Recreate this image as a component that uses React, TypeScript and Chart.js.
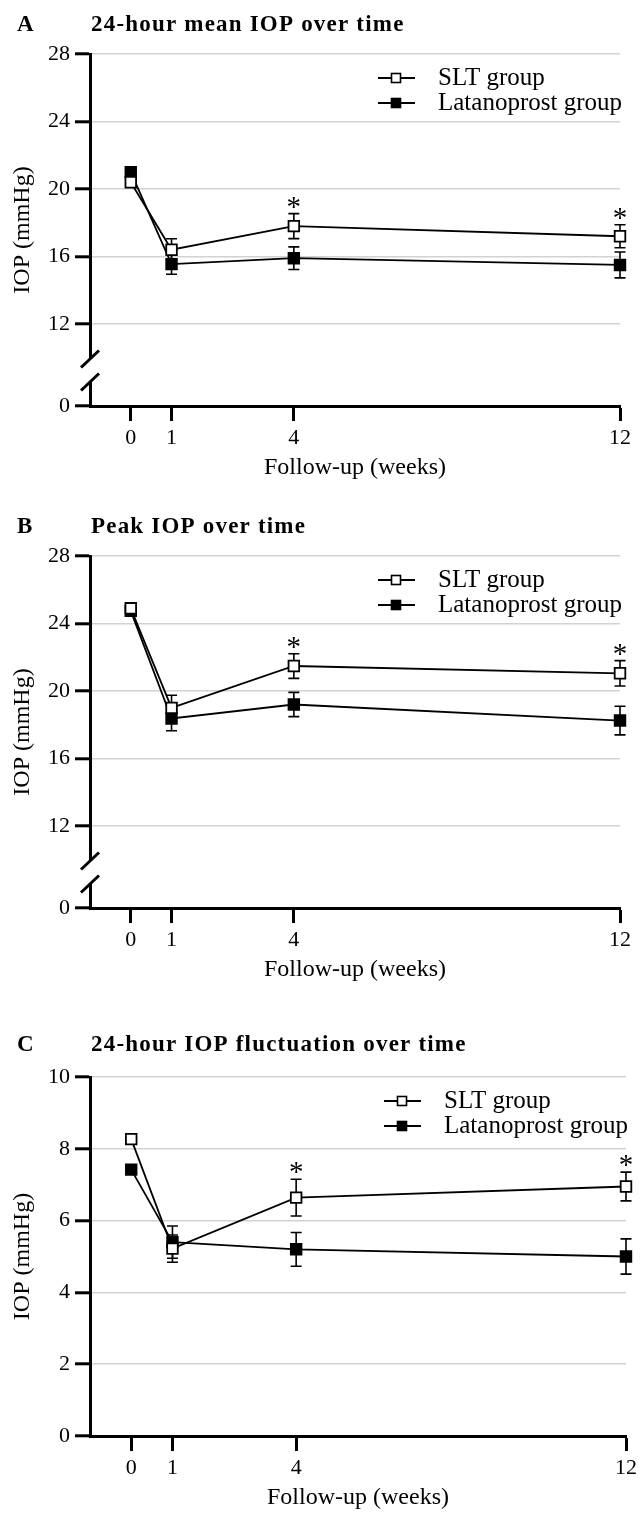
import React, { useEffect, useRef } from 'react';
import { Chart, registerables } from 'chart.js';

Chart.register(...registerables);

// ---------- data ----------
const WEEKS = [0, 1, 4, 12];
const X_TICKS = [0, 1, 4, 12];
const SERIES_LABELS = ['SLT group', 'Latanoprost group'];

const A_SLT = [20.4, 16.4, 17.8, 17.2];
const A_SLT_ERR = [0.2, 0.65, 0.74, 0.68];
const A_LAT = [21.0, 15.55, 15.9, 15.5];
const A_LAT_ERR = [0.2, 0.6, 0.67, 0.77];
const A_SIG = [false, false, true, true];

const B_SLT = [24.9, 19.0, 21.48, 21.05];
const B_SLT_ERR = [0.2, 0.75, 0.73, 0.75];
const B_LAT = [24.75, 18.37, 19.2, 18.25];
const B_LAT_ERR = [0.2, 0.73, 0.72, 0.85];
const B_SIG = [false, false, true, true];

const C_SLT = [8.27, 5.22, 6.64, 6.95];
const C_SLT_ERR = [0.1, 0.38, 0.51, 0.4];
const C_LAT = [7.42, 5.4, 5.2, 5.0];
const C_LAT_ERR = [0.1, 0.45, 0.47, 0.49];
const C_SIG = [false, false, true, true];

const Y_TICKS_AB = [12, 16, 20, 24, 28];
const Y_TICKS_C = [0, 2, 4, 6, 8, 10];

const FONT = '"Liberation Serif", "Times New Roman", serif';

type Panel = {
  letter: string;
  title: string;
  slt: number[];
  sltErr: number[];
  lat: number[];
  latErr: number[];
  sig: boolean[];
  yMin: number;
  yMax: number;
  yTicks: number[];
  broken: boolean;
  pageTop: number;
  height: number;
  plotTop: number;
  plotBottom: number;
  plotRight: number;
};

const PANELS: Panel[] = [
  {
    letter: 'A', title: '24-hour mean IOP over time',
    slt: A_SLT, sltErr: A_SLT_ERR, lat: A_LAT, latErr: A_LAT_ERR, sig: A_SIG,
    yMin: 7.14, yMax: 28, yTicks: Y_TICKS_AB, broken: true,
    pageTop: 0, height: 500, plotTop: 54, plotBottom: 406, plotRight: 620,
  },
  {
    letter: 'B', title: 'Peak IOP over time',
    slt: B_SLT, sltErr: B_SLT_ERR, lat: B_LAT, latErr: B_LAT_ERR, sig: B_SIG,
    yMin: 7.14, yMax: 28, yTicks: Y_TICKS_AB, broken: true,
    pageTop: 502, height: 500, plotTop: 54, plotBottom: 406, plotRight: 620,
  },
  {
    letter: 'C', title: '24-hour IOP fluctuation over time',
    slt: C_SLT, sltErr: C_SLT_ERR, lat: C_LAT, latErr: C_LAT_ERR, sig: C_SIG,
    yMin: 0, yMax: 10, yTicks: Y_TICKS_C, broken: false,
    pageTop: 1020, height: 493, plotTop: 57, plotBottom: 416, plotRight: 627,
  },
];

function makePlugin(p: Panel) {
  const errs = [p.sltErr, p.latErr];
  const means = [p.slt, p.lat];
  return {
    id: 'decor' + p.letter,
    beforeDatasetsDraw(chart: any) {
      const ctx = chart.ctx;
      const xs = chart.scales.x;
      const ys = chart.scales.y;
      ctx.save();
      ctx.strokeStyle = '#000';
      ctx.lineWidth = 1.6;
      for (let d = 0; d < 2; d++) {
        WEEKS.forEach((w, i) => {
          const x = xs.getPixelForValue(w);
          const yT = ys.getPixelForValue(means[d][i] + errs[d][i]);
          const yB = ys.getPixelForValue(means[d][i] - errs[d][i]);
          ctx.beginPath();
          ctx.moveTo(x, yT); ctx.lineTo(x, yB);
          ctx.moveTo(x - 5.5, yT); ctx.lineTo(x + 5.5, yT);
          ctx.moveTo(x - 5.5, yB); ctx.lineTo(x + 5.5, yB);
          ctx.stroke();
        });
      }
      ctx.restore();
    },
    afterDraw(chart: any) {
      const ctx = chart.ctx;
      const xs = chart.scales.x;
      const ys = chart.scales.y;
      const area = chart.chartArea;
      ctx.save();
      // significance asterisks
      ctx.fillStyle = '#000';
      ctx.font = `29px ${FONT}`;
      ctx.textAlign = 'center';
      ctx.textBaseline = 'alphabetic';
      WEEKS.forEach((w, i) => {
        if (!p.sig[i]) return;
        const x = xs.getPixelForValue(w);
        const top = Math.max(p.slt[i] + p.sltErr[i], p.lat[i] + p.latErr[i]);
        const y = ys.getPixelForValue(top);
        ctx.fillText('*', x, y + 2);
      });
      // axis break
      if (p.broken) {
        const ax = area.left;
        const c1 = area.bottom - 47;
        const c2 = area.bottom - 24;
        ctx.fillStyle = '#fff';
        ctx.fillRect(ax - 3, c1, 6, c2 - c1);
        ctx.strokeStyle = '#000';
        ctx.lineWidth = 3;
        [c1, c2].forEach((c) => {
          ctx.beginPath();
          ctx.moveTo(ax - 9, c + 8.5);
          ctx.lineTo(ax + 9, c - 8.5);
          ctx.stroke();
        });
      }
      // panel letter and title
      ctx.fillStyle = '#000';
      ctx.textAlign = 'left';
      ctx.textBaseline = 'middle';
      ctx.font = `bold 23px ${FONT}`;
      ctx.fillText(p.letter, 17, 25);
      (ctx as any).letterSpacing = '1.2px';
      ctx.fillText(p.title, 91, 25);
      (ctx as any).letterSpacing = '0px';
      // legend
      const textX = area.right - 182;
      const fills = ['#fff', '#000'];
      chart.data.datasets.forEach((ds: any, i: number) => {
        const y = area.top + 24 + i * 25;
        ctx.strokeStyle = '#000';
        ctx.lineWidth = 1.8;
        ctx.beginPath();
        ctx.moveTo(textX - 60, y);
        ctx.lineTo(textX - 23, y);
        ctx.stroke();
        ctx.fillStyle = fills[i];
        ctx.fillRect(textX - 46.5, y - 4.5, 9, 9);
        ctx.lineWidth = 1.6;
        ctx.strokeRect(textX - 46.5, y - 4.5, 9, 9);
        ctx.fillStyle = '#000';
        ctx.font = `25px ${FONT}`;
        ctx.textBaseline = 'middle';
        ctx.fillText(ds.label, textX, y);
      });
      ctx.restore();
    },
  };
}

function PanelChart({ p }: { p: Panel }) {
  const ref = useRef<HTMLCanvasElement | null>(null);
  useEffect(() => {
    if (!ref.current) return;
    const H = p.height;
    const yTickList = p.broken ? [p.yMin, ...p.yTicks] : p.yTicks;
    const common = {
      type: 'line',
      borderColor: '#000',
      borderWidth: 1.8,
      pointStyle: 'rect',
      pointRadius: 7.5,
      pointHoverRadius: 7.5,
      pointBorderColor: '#000',
      pointBorderWidth: 1.8,
      tension: 0,
      clip: false,
      fill: false,
    };
    const chart = new Chart(ref.current, {
      type: 'line',
      data: {
        datasets: [
          {
            ...common,
            label: SERIES_LABELS[0],
            data: WEEKS.map((w, i) => ({ x: w, y: p.slt[i] })),
            pointBackgroundColor: '#fff',
          },
          {
            ...common,
            label: SERIES_LABELS[1],
            data: WEEKS.map((w, i) => ({ x: w, y: p.lat[i] })),
            pointBackgroundColor: '#000',
          },
        ] as any,
      },
      options: {
        animation: false,
        responsive: false,
        maintainAspectRatio: false,
        events: [],
        layout: { padding: { top: p.plotTop, right: 641 - p.plotRight, left: 0, bottom: 0 } },
        plugins: {
          legend: { display: false },
          tooltip: { enabled: false },
          title: { display: false },
        },
        scales: {
          x: {
            type: 'linear',
            min: -1,
            max: 12,
            afterBuildTicks: (s: any) => { s.ticks = X_TICKS.map((v) => ({ value: v })); },
            afterFit: (s: any) => { s.height = H - p.plotBottom; },
            grid: {
              drawOnChartArea: false,
              drawTicks: true,
              tickLength: 15,
              tickWidth: 3,
              tickColor: '#000',
            },
            border: { display: true, color: '#000', width: 3 },
            ticks: {
              font: { family: FONT, size: 22 },
              color: '#000',
              padding: 4,
              autoSkip: false,
              maxRotation: 0,
              callback: (v: any) => String(v),
            },
            title: {
              display: true,
              text: 'Follow-up (weeks)',
              color: '#000',
              font: { family: FONT, size: 24, lineHeight: 1 },
              padding: { bottom: H - (p.plotBottom + 62) - 12, top: 0 },
            },
          },
          y: {
            type: 'linear',
            min: p.yMin,
            max: p.yMax,
            afterBuildTicks: (s: any) => { s.ticks = yTickList.map((v) => ({ value: v })); },
            afterFit: (s: any) => { s.width = 90; },
            grid: {
              color: (c: any) => (c.tick && c.tick.value <= p.yMin + 0.001 ? 'rgba(0,0,0,0)' : '#d2d2d2'),
              lineWidth: 1.6,
              drawTicks: true,
              tickLength: 15,
              tickWidth: 3,
              tickColor: '#000',
            },
            border: { display: true, color: '#000', width: 3 },
            ticks: {
              font: { family: FONT, size: 22 },
              color: '#000',
              padding: 5,
              autoSkip: false,
              callback: (v: any) => (p.broken && v <= p.yMin + 0.001 ? '0' : String(v)),
            },
            title: {
              display: true,
              text: 'IOP (mmHg)',
              color: '#000',
              font: { family: FONT, size: 24, lineHeight: 1.2 },
              padding: { top: 8, bottom: 0 },
            },
          },
        },
      } as any,
      plugins: [makePlugin(p)],
    });
    return () => chart.destroy();
  }, [p]);
  return (
    <canvas
      ref={ref}
      width={641}
      height={p.height}
      style={{ position: 'absolute', left: 0, top: p.pageTop, width: 641, height: p.height }}
    />
  );
}

export default function App() {
  useEffect(() => {
    document.body.style.margin = '0';
    document.body.style.background = '#fff';
  }, []);
  return (
    <div style={{ position: 'relative', width: 641, height: 1513, background: '#fff' }}>
      {PANELS.map((p) => (
        <PanelChart key={p.letter} p={p} />
      ))}
    </div>
  );
}
